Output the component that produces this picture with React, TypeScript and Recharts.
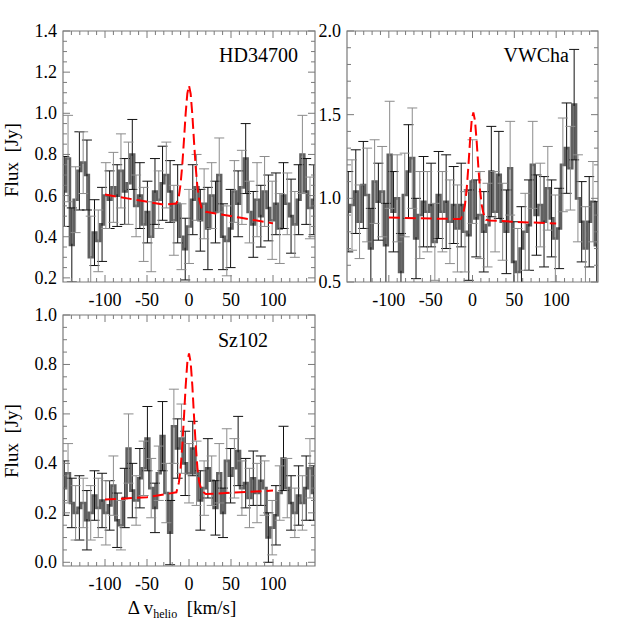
import React from 'react';
import {
  ComposedChart,
  Line,
  Scatter,
  ErrorBar,
  XAxis,
  YAxis,
  ReferenceArea,
} from 'recharts';

// velocity bin centres (km/s)
const velocity = [
  -148.5, -144, -139.5, -135, -130.5, -126, -121.5, -117, -112.5, -108,
  -103.5, -99, -94.5, -90, -85.5, -81, -76.5, -72, -67.5, -63,
  -58.5, -54, -49.5, -45, -40.5, -36, -31.5, -27, -22.5, -18,
  -13.5, -9, -4.5, 0, 4.5, 9, 13.5, 18, 22.5, 27,
  31.5, 36, 40.5, 45, 49.5, 54, 58.5, 63, 67.5, 72,
  76.5, 81, 85.5, 90, 94.5, 99, 103.5, 108, 112.5, 117,
  121.5, 126, 130.5, 135, 139.5, 144, 148.5,
];

const hdFlux = [
  0.62, 0.78, 0.36, 0.58, 0.72, 0.76, 0.70, 0.30, 0.42, 0.38,
  0.46, 0.60, 0.58, 0.64, 0.60, 0.72, 0.62, 0.66, 0.80, 0.55,
  0.60, 0.46, 0.52, 0.40, 0.62, 0.58, 0.66, 0.70, 0.62, 0.48,
  0.56, 0.40, 0.34, 0.45, 0.58, 0.64, 0.48, 0.56, 0.44, 0.60,
  0.52, 0.70, 0.40, 0.38, 0.44, 0.62, 0.56, 0.64, 0.78, 0.52,
  0.46, 0.58, 0.50, 0.62, 0.54, 0.48, 0.56, 0.44, 0.60, 0.56,
  0.50, 0.46, 0.58, 0.80, 0.62, 0.54, 0.58,
];
const hdErr = [
  0.17, 0.21, 0.18, 0.16, 0.19, 0.15, 0.17, 0.20, 0.16, 0.15,
  0.18, 0.16, 0.14, 0.17, 0.15, 0.18, 0.16, 0.20, 0.17, 0.15,
  0.16, 0.18, 0.15, 0.17, 0.16, 0.14, 0.18, 0.16, 0.15, 0.17,
  0.19, 0.16, 0.15, 0.18, 0.17, 0.16, 0.15, 0.17, 0.20, 0.16,
  0.15, 0.18, 0.16, 0.17, 0.19, 0.15, 0.16, 0.18, 0.17, 0.15,
  0.16, 0.18, 0.15, 0.17, 0.16, 0.19, 0.15, 0.17, 0.16, 0.15,
  0.18, 0.16, 0.17, 0.19, 0.16, 0.15, 0.17,
];
const hdModelV = [-100, -60, -30, -15, -12, -10, -8, -6, -4, -2, 0, 2, 4, 6, 8, 10, 12, 15, 20, 30, 60, 100];
const hdModelF = [0.605, 0.577, 0.556, 0.561, 0.599, 0.657, 0.749, 0.869, 0.998, 1.096, 1.135, 1.094, 0.992, 0.861, 0.737, 0.643, 0.583, 0.540, 0.521, 0.514, 0.493, 0.465];

const vwFlux = [
  0.92, 0.96, 1.04, 0.86, 1.08, 1.02, 0.70, 1.10, 0.98, 1.04,
  0.72, 1.26, 0.92, 1.00, 0.56, 1.02, 1.16, 1.24, 0.76, 0.90,
  0.98, 0.92, 0.96, 0.74, 1.02, 0.92, 0.98, 0.86, 0.96, 0.82,
  0.96, 0.80, 0.78, 1.10, 0.88, 0.90, 0.80, 0.84, 1.16, 0.92,
  1.14, 0.86, 0.80, 1.18, 0.62, 0.56, 0.70, 0.80, 0.84, 1.20,
  0.90, 0.96, 0.86, 1.06, 0.88, 0.76, 0.82, 1.20, 1.30, 1.18,
  1.56, 1.00, 0.86, 0.70, 0.86, 0.98, 0.72,
];
const vwErr = [
  0.24, 0.27, 0.25, 0.22, 0.26, 0.28, 0.24, 0.25, 0.23, 0.27,
  0.25, 0.32, 0.24, 0.26, 0.23, 0.25, 0.28, 0.30, 0.24, 0.26,
  0.27, 0.24, 0.25, 0.23, 0.26, 0.24, 0.28, 0.25, 0.23, 0.26,
  0.25, 0.24, 0.27, 0.25, 0.23, 0.26, 0.24, 0.25, 0.27, 0.24,
  0.26, 0.23, 0.25, 0.28, 0.24, 0.26, 0.25, 0.23, 0.27, 0.26,
  0.24, 0.25, 0.27, 0.25, 0.23, 0.26, 0.24, 0.28, 0.27, 0.25,
  0.33, 0.26, 0.24, 0.25, 0.27, 0.24, 0.26,
];
const vwModelV = [-100, -50, -14, -11, -9, -7, -5, -3, -1, 1, 3, 5, 7, 9, 11, 13, 16, 20, 50, 100];
const vwModelF = [0.885, 0.879, 0.876, 0.911, 0.961, 1.052, 1.186, 1.339, 1.464, 1.513, 1.464, 1.339, 1.186, 1.052, 0.961, 0.911, 0.872, 0.868, 0.860, 0.849];

const szFlux = [
  0.30, 0.36, 0.24, 0.20, 0.22, 0.24, 0.17, 0.20, 0.27, 0.22,
  0.25, 0.20, 0.23, 0.31, 0.17, 0.15, 0.26, 0.46, 0.29, 0.25,
  0.34, 0.38, 0.50, 0.30, 0.22, 0.36, 0.51, 0.28, 0.12, 0.55,
  0.46, 0.50, 0.40, 0.36, 0.46, 0.36, 0.25, 0.30, 0.38, 0.33,
  0.22, 0.36, 0.20, 0.41, 0.35, 0.38, 0.45, 0.30, 0.32, 0.26,
  0.34, 0.28, 0.33, 0.30, 0.10, 0.14, 0.19, 0.28, 0.42, 0.30,
  0.24, 0.20, 0.27, 0.24, 0.30, 0.38, 0.28,
];
const szErr = [
  0.11, 0.12, 0.10, 0.11, 0.13, 0.10, 0.12, 0.11, 0.10, 0.12,
  0.11, 0.13, 0.10, 0.12, 0.11, 0.10, 0.12, 0.14, 0.11, 0.10,
  0.12, 0.11, 0.13, 0.12, 0.10, 0.11, 0.14, 0.12, 0.13, 0.15,
  0.12, 0.14, 0.13, 0.12, 0.11, 0.13, 0.12, 0.11, 0.12, 0.10,
  0.11, 0.12, 0.10, 0.13, 0.11, 0.12, 0.14, 0.11, 0.10, 0.12,
  0.11, 0.12, 0.10, 0.11, 0.10, 0.11, 0.12, 0.11, 0.13, 0.12,
  0.11, 0.10, 0.12, 0.11, 0.13, 0.12, 0.11,
];
const szModelV = [-100, -50, -15, -12, -10, -8, -6, -4, -2, 0, 2, 4, 6, 8, 10, 12, 15, 20, 50, 100];
const szModelF = [0.254, 0.263, 0.283, 0.323, 0.379, 0.470, 0.587, 0.711, 0.808, 0.845, 0.808, 0.713, 0.589, 0.473, 0.382, 0.327, 0.289, 0.276, 0.281, 0.290];

// axis ticks (minor + major) and the labelled ones
const xTicks = [-140, -130, -120, -110, -100, -90, -80, -70, -60, -50, -40, -30, -20, -10, 0, 10, 20, 30, 40, 50, 60, 70, 80, 90, 100, 110, 120, 130, 140];
const xLabels = [-100, -50, 0, 50, 100];
const hdYTicks = [0.2, 0.25, 0.3, 0.35, 0.4, 0.45, 0.5, 0.55, 0.6, 0.65, 0.7, 0.75, 0.8, 0.85, 0.9, 0.95, 1.0, 1.05, 1.1, 1.15, 1.2, 1.25, 1.3, 1.35, 1.4];
const hdYLabels = [0.2, 0.4, 0.6, 0.8, 1.0, 1.2, 1.4];
const vwYTicks = [0.5, 0.6, 0.7, 0.8, 0.9, 1.0, 1.1, 1.2, 1.3, 1.4, 1.5, 1.6, 1.7, 1.8, 1.9, 2.0];
const vwYLabels = [0.5, 1.0, 1.5, 2.0];
const szYTicks = [0, 0.05, 0.1, 0.15, 0.2, 0.25, 0.3, 0.35, 0.4, 0.45, 0.5, 0.55, 0.6, 0.65, 0.7, 0.75, 0.8, 0.85, 0.9, 0.95, 1.0];
const szYLabels = [0, 0.2, 0.4, 0.6, 0.8, 1.0];

const AXIS = '#7a7a7a';
const FONT = '"Liberation Serif", "Times New Roman", serif';
const noDot = () => <g />;

function Panel({ left, top, w, h, flux, err, modelV, modelF, yDomain, yTicks, yLabels }) {
  const rows = velocity.map((v, i) => ({ v, f: flux[i], e: err[i] }));
  const even = rows.filter((_, i) => i % 2 === 0);
  const odd = rows.filter((_, i) => i % 2 === 1);
  const model = modelV.map((v, i) => ({ v, f: modelF[i] }));

  const xTick = (p) => {
    const { x, y, payload } = p;
    const major = xLabels.includes(payload.value);
    const len = major ? 7 : 4;
    return (
      <g>
        <line x1={x} x2={x} y1={y} y2={y - len} stroke={AXIS} />
        <line x1={x} x2={x} y1={y - h} y2={y - h + len} stroke={AXIS} />
        {major && (
          <text x={x} y={y + 24} textAnchor="middle" fontSize={18} fontFamily={FONT} fill="#000">
            {payload.value}
          </text>
        )}
      </g>
    );
  };

  const yTick = (p) => {
    const { x, y, payload } = p;
    const major = yLabels.some((l) => Math.abs(l - payload.value) < 1e-6);
    const len = major ? 7 : 4;
    return (
      <g>
        <line x1={x} x2={x + len} y1={y} y2={y} stroke={AXIS} />
        <line x1={x + w} x2={x + w - len} y1={y} y2={y} stroke={AXIS} />
        {major && (
          <text x={x - 6} y={y + 6} textAnchor="end" fontSize={18} fontFamily={FONT} fill="#000">
            {payload.value.toFixed(1)}
          </text>
        )}
      </g>
    );
  };

  return (
    <>
      {/* spectrum + error bars, clipped to the plot box */}
      <div style={{ position: 'absolute', left, top, width: w, height: h, overflow: 'hidden' }}>
        <ComposedChart width={w} height={h} margin={{ top: 0, right: 0, bottom: 0, left: 0 }} data={rows}>
          <XAxis hide type="number" dataKey="v" domain={[-150, 150]} allowDataOverflow />
          <YAxis hide type="number" domain={yDomain} allowDataOverflow />
          <Line
            data={rows}
            dataKey="f"
            type="step"
            stroke="#606060"
            strokeWidth={2.6}
            dot={false}
            isAnimationActive={false}
          />
          <Scatter data={even} dataKey="f" shape={noDot} isAnimationActive={false}>
            <ErrorBar dataKey="e" direction="y" width={5} stroke="#111" strokeWidth={1} isAnimationActive={false} />
          </Scatter>
          <Scatter data={odd} dataKey="f" shape={noDot} isAnimationActive={false}>
            <ErrorBar dataKey="e" direction="y" width={5} stroke="#8c8c8c" strokeWidth={1} isAnimationActive={false} />
          </Scatter>
        </ComposedChart>
      </div>
      {/* axes, frame and model */}
      <div style={{ position: 'absolute', left: left - 63, top: top - 31 }}>
        <ComposedChart
          width={63 + w + 15}
          height={31 + h + 40}
          margin={{ top: 31, right: 15, bottom: 10, left: 0 }}
          data={model}
        >
          <XAxis
            type="number"
            dataKey="v"
            domain={[-150, 150]}
            allowDataOverflow
            ticks={xTicks}
            interval={0}
            tick={xTick}
            tickLine={false}
            axisLine={false}
            tickSize={0}
            tickMargin={0}
            height={30}
          />
          <YAxis
            type="number"
            domain={yDomain}
            allowDataOverflow
            ticks={yTicks}
            interval={0}
            tick={yTick}
            tickLine={false}
            axisLine={false}
            tickSize={0}
            tickMargin={0}
            width={63}
          />
          <ReferenceArea
            x1={-150}
            x2={150}
            y1={yDomain[0]}
            y2={yDomain[1]}
            fill="none"
            stroke={AXIS}
            strokeWidth={1.2}
            ifOverflow="visible"
          />
          <Line
            data={model}
            dataKey="f"
            type="linear"
            stroke="#ff0000"
            strokeWidth={2}
            strokeDasharray="11 5"
            dot={false}
            isAnimationActive={false}
          />
        </ComposedChart>
      </div>
    </>
  );
}

export default function App() {
  return (
    <div style={{ position: 'absolute', left: 0, top: 0, width: 629, height: 629, background: '#fff' }}>
      <Panel left={63} top={31} w={252} h={251} flux={hdFlux} err={hdErr} modelV={hdModelV} modelF={hdModelF}
        yDomain={[0.18, 1.4]} yTicks={hdYTicks} yLabels={hdYLabels} />
      <Panel left={347} top={31} w={251} h={251} flux={vwFlux} err={vwErr} modelV={vwModelV} modelF={vwModelF}
        yDomain={[0.5, 2.0]} yTicks={vwYTicks} yLabels={vwYLabels} />
      <Panel left={63} top={315} w={252} h={251} flux={szFlux} err={szErr} modelV={szModelV} modelF={szModelF}
        yDomain={[-0.015, 1.0]} yTicks={szYTicks} yLabels={szYLabels} />
      <svg width={629} height={629} style={{ position: 'absolute', left: 0, top: 0, pointerEvents: 'none' }}>
        <g fontFamily={FONT} fill="#000">
          <text x={298} y={62} textAnchor="end" fontSize={20}>HD34700</text>
          <text x={569} y={62} textAnchor="end" fontSize={20}>VWCha</text>
          <text x={268} y={347} textAnchor="end" fontSize={20}>Sz102</text>
          <text x={18} y={160} transform="rotate(-90 18 160)" textAnchor="middle" fontSize={19} style={{ whiteSpace: 'pre' }}>
            {'Flux  [Jy]'}
          </text>
          <text x={18} y={441} transform="rotate(-90 18 441)" textAnchor="middle" fontSize={19} style={{ whiteSpace: 'pre' }}>
            {'Flux  [Jy]'}
          </text>
          <text x={182} y={614} textAnchor="middle" fontSize={19} style={{ whiteSpace: 'pre' }}>
            {'Δ v'}
            <tspan fontSize={12} dy={4}>helio</tspan>
            <tspan dy={-4}>{'  [km/s]'}</tspan>
          </text>
        </g>
      </svg>
    </div>
  );
}
